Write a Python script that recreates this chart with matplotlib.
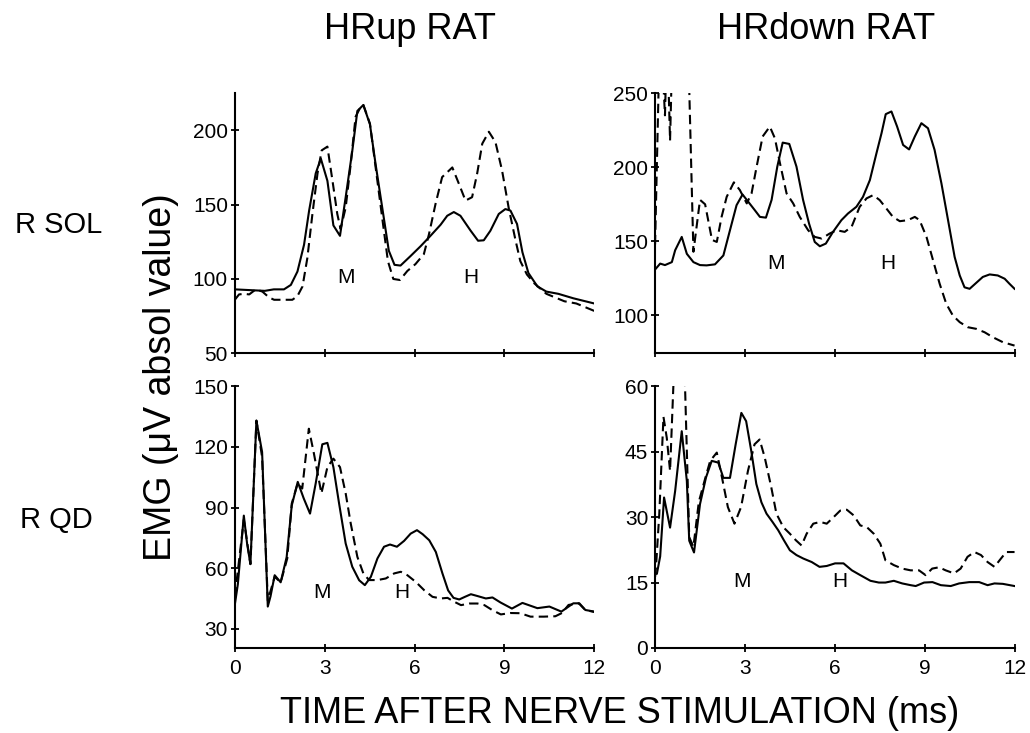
import numpy as np
import matplotlib
matplotlib.use('Agg')
import matplotlib.pyplot as plt

plt.rcParams['font.family'] = ['Liberation Sans', 'DejaVu Sans']

# ---- data (time in ms, EMG in uV) ----
# HRup rat, R SOL
sol_up_t = [0, 0.5, 1.0, 1.3, 1.64, 1.87, 2.09, 2.31, 2.48, 2.7, 2.87, 3.09, 3.29, 3.51, 3.7, 3.92,
            4.09, 4.29, 4.51, 4.7, 4.92, 5.14, 5.33, 5.53, 5.87, 6.2, 6.53, 6.87, 7.09, 7.31, 7.53,
            7.87, 8.12, 8.31, 8.53, 8.81, 9.03, 9.2, 9.42, 9.6, 9.8, 10.1, 10.4, 10.8, 11.3, 12]
sol_up_solid = [93, 92.5, 92, 93, 93, 96, 105, 123, 146, 171, 181, 166, 136, 129, 155, 186,
                213, 217, 204, 177, 148, 119, 109.5, 109, 115.5, 122, 129, 136.5, 142.5, 145, 142.5,
                132.5, 125.7, 126, 132.4, 143.7, 147, 146, 137, 118, 104, 95, 91.5, 90, 87, 83.5]
sol_up_dt = [0, 0.14, 0.31, 0.48, 0.7, 0.92, 1.14, 1.31, 1.53, 1.92, 2.09, 2.26, 2.42, 2.59, 2.76,
             2.9, 3.09, 3.26, 3.42, 3.53, 3.7, 3.87, 4.03, 4.2, 4.29, 4.51, 4.7, 4.92, 5.11, 5.29,
             5.51, 5.76, 6.03, 6.31, 6.48, 6.7, 6.92, 7.26, 7.48, 7.7, 7.92, 8.09, 8.26, 8.48, 8.7,
             8.92, 9.14, 9.37, 9.53, 9.75, 10.0, 10.4, 11.0, 11.4, 12]
sol_up_dash = [86, 89.6, 90, 89.6, 93, 91.5, 87.6, 86, 86, 86, 88.5, 95, 114, 143.7, 171,
               186.5, 189, 166, 143.7, 133.6, 148, 177.5, 209, 215.8, 217, 204.5, 175, 141, 112, 100,
               99.3, 105.4, 110, 116.7, 130, 150.5, 168.5, 175, 164, 152.7, 155, 171, 191, 199, 192,
               173, 148, 126, 112, 103, 97, 90, 85, 83.5, 78.5]

# HRdown rat, R SOL
sol_dn_t = [0, 0.17, 0.33, 0.56, 0.67, 0.89, 1.06, 1.28, 1.5, 1.72, 2.0, 2.28, 2.5, 2.72, 2.92,
            3.11, 3.33, 3.5, 3.7, 3.89, 4.08, 4.26, 4.48, 4.72, 4.94, 5.14, 5.33, 5.5, 5.7, 5.94,
            6.22, 6.44, 6.72, 6.94, 7.17, 7.39, 7.56, 7.7, 7.89, 8.08, 8.28, 8.48, 8.67, 8.89, 9.11,
            9.33, 9.56, 9.78, 10.0, 10.17, 10.33, 10.5, 10.72, 10.94, 11.17, 11.44, 11.67, 11.83, 12]
sol_dn_solid = [131, 135, 134, 136, 144, 153, 141.6, 136, 134, 133.8, 134.5, 140.5, 157.5, 174.4, 181.6,
                176.7, 171, 166.5, 166, 178, 200.4, 216.6, 215.7, 200.4, 178, 162, 149.6, 146.7, 148.5, 156.4,
                164.3, 168.8, 173.3, 180, 191.3, 209.4, 223, 235.8, 237.6, 227.4, 215, 212, 220.7, 229.7, 226.3,
                211.7, 189, 164.3, 139.5, 127, 119, 118, 122, 126, 127.7, 127, 124.8, 121.4, 118]
sol_dn_dt = [0, 0.17, 0.33, 0.4, 0.5, 0.6, 0.8, 1.08, 1.28, 1.5, 1.67, 1.9, 2.06, 2.22, 2.39, 2.63,
             2.83, 3.06, 3.22, 3.39, 3.59, 3.83, 4.0, 4.17, 4.39, 4.61, 4.83, 5.11, 5.33, 5.56, 5.83,
             6.06, 6.33, 6.56, 6.83, 7.06, 7.28, 7.5, 7.72, 7.94, 8.17, 8.44, 8.67, 8.83, 9.06, 9.28,
             9.5, 9.72, 9.94, 10.17, 10.44, 10.72, 11.0, 11.28, 11.61, 12]
sol_dn_dash = [148, 300, 235, 290, 218, 300, 320, 300, 143, 178, 175, 151, 149.6, 166.5, 180, 189.8,
               184.6, 175.6, 182.3, 200.4, 220.7, 227.4, 219.5, 202.6, 182.3, 175.6, 166.5, 157.5, 153, 151.9, 155.3,
               157.5, 156.4, 159.8, 173.3, 179, 181.2, 177.8, 172.2, 166.5, 163.6, 164.3, 166.5, 164.3, 153, 137.2,
               121.4, 107.9, 100, 95.5, 92.1, 91, 88.7, 85.3, 82, 79.7]

# HRup rat, R QD
qd_up_t = [0, 0.1, 0.3, 0.41, 0.52, 0.72, 0.91, 1.1, 1.19, 1.33, 1.53, 1.73, 1.9, 2.1, 2.3, 2.51,
           2.7, 2.92, 3.09, 3.29, 3.48, 3.7, 3.92, 4.15, 4.34, 4.54, 4.76, 4.98, 5.18, 5.41, 5.65,
           5.87, 6.08, 6.27, 6.49, 6.71, 6.93, 7.12, 7.3, 7.49, 7.68, 7.88, 8.1, 8.38, 8.6, 8.87,
           9.25, 9.6, 10.1, 10.5, 10.9, 11.3, 11.5, 11.7, 12]
qd_up_solid = [42, 52, 86, 72, 62, 133, 117.5, 41, 46, 56.5, 53, 65.5, 91, 102.7, 94.5, 87,
               102, 121.3, 122, 110, 92, 72.2, 60.7, 54, 51.6, 55.7, 64.8, 70.6, 71.7, 70.6, 73.5,
               77.1, 78.8, 76.8, 73.8, 68, 57.4, 49, 45.3, 44.5, 45.8, 47.1, 46.2, 45, 45.5, 43,
               40, 42.8, 40.2, 41, 38.5, 42.6, 42.6, 39.3, 38.5]
qd_up_dt = [0, 0.3, 0.52, 0.72, 0.91, 1.1, 1.33, 1.53, 1.75, 1.9, 2.1, 2.25, 2.47, 2.64, 2.89,
            3.09, 3.29, 3.51, 3.7, 3.87, 4.09, 4.29, 4.48, 4.76, 5.04, 5.32, 5.54, 5.76, 6.04,
            6.32, 6.6, 6.88, 7.1, 7.32, 7.55, 7.83, 8.1, 8.33, 8.6, 8.88, 9.2, 9.53, 9.87, 10.31,
            10.7, 10.92, 11.14, 11.48, 11.7, 12]
qd_up_dash = [46, 84, 62, 133, 115, 44, 55.7, 53, 64.8, 92, 102, 99.4, 129, 116.7, 97,
              110, 114.2, 110, 97, 82, 65.6, 57.4, 54.1, 54.1, 54.9, 57.4, 58.2, 56.5, 53.2,
              49.1, 45.8, 45, 45.3, 43.4, 41.7, 42.5, 42.5, 41.7, 39.2, 37.1, 37.8, 37.7, 36, 36,
              36.2, 37.8, 41.8, 42.6, 39.3, 38.3]

# HRdown rat, R QD
qd_dn_t = [0, 0.06, 0.17, 0.3, 0.5, 0.67, 0.89, 1.06, 1.14, 1.3, 1.5, 1.7, 1.89, 2.11, 2.28, 2.5,
           2.69, 2.88, 3.04, 3.21, 3.38, 3.55, 3.72, 3.92, 4.11, 4.3, 4.5, 4.72, 4.95, 5.23, 5.49,
           5.73, 6.01, 6.29, 6.57, 6.85, 7.19, 7.47, 7.69, 7.97, 8.25, 8.53, 8.7, 8.98, 9.26, 9.54,
           9.87, 10.15, 10.49, 10.82, 11.1, 11.33, 11.61, 12]
qd_dn_solid = [17, 17, 21, 34.5, 27.6, 36, 49.7, 38.3, 24.6, 21.9, 33, 39.1, 42.9, 42.5, 39, 39,
               46.7, 53.9, 52, 45.2, 37.6, 33.4, 30.8, 28.9, 27, 24.7, 22.4, 21.3, 20.5, 19.7, 18.6,
               18.8, 19.4, 19.4, 17.8, 16.7, 15.4, 15, 15, 15.4, 14.8, 14.4, 14.2, 15, 15.1, 14.4,
               14.2, 14.8, 15.1, 15.1, 14.4, 14.8, 14.7, 14.2]
qd_dn_dt = [0, 0.03, 0.14, 0.28, 0.39, 0.5, 0.61, 0.75, 0.9, 1.0, 1.14, 1.28, 1.46, 1.65, 1.84,
            2.06, 2.21, 2.43, 2.65, 2.87, 3.1, 3.32, 3.49, 3.66, 3.88, 4.05, 4.28, 4.5, 4.7, 4.89,
            5.06, 5.28, 5.51, 5.73, 5.96, 6.18, 6.4, 6.63, 6.85, 7.07, 7.3, 7.52, 7.69, 7.97, 8.25,
            8.53, 8.81, 9.03, 9.25, 9.48, 9.7, 9.98, 10.2, 10.43, 10.66, 10.88, 11.1, 11.33, 11.5,
            11.72, 12]
qd_dn_dash = [16.3, 18.5, 30.7, 53, 48.2, 40.6, 60, 68, 68, 60, 25.4, 23.2, 33.5, 38.3, 42.9,
              44.8, 39.9, 32.3, 28.5, 32.3, 40.6, 46.7, 47.8, 43.7, 36.8, 30.8, 27.7, 26.2, 24.7, 23.5,
              26.2, 28.5, 28.9, 28.5, 30, 31.5, 31.7, 30.4, 28.1, 27.7, 26.2, 23.9, 20.1, 19, 18.2,
              17.8, 17.8, 16.7, 18.2, 18.5, 17.8, 17.1, 18.2, 20.9, 22, 21.3, 19.7, 18.6, 20.1,
              22, 22]

x_ticks = [0, 3, 6, 9, 12]

fig = plt.figure(figsize=(10.3, 7.33), dpi=100)

ax_tl = fig.add_axes([0.228, 0.518, 0.349, 0.355])
ax_tr = fig.add_axes([0.636, 0.518, 0.349, 0.355])
ax_bl = fig.add_axes([0.228, 0.116, 0.349, 0.357])
ax_br = fig.add_axes([0.636, 0.116, 0.349, 0.357])

panels = [
    (ax_tl, sol_up_t, sol_up_solid, sol_up_dt, sol_up_dash, (50, 225), [50, 100, 150, 200], 101, 3.7, 7.87),
    (ax_tr, sol_dn_t, sol_dn_solid, sol_dn_dt, sol_dn_dash, (74.5, 250), [100, 150, 200, 250], 135.4, 4.02, 7.78),
    (ax_bl, qd_up_t, qd_up_solid, qd_up_dt, qd_up_dash, (20.5, 150), [30, 60, 90, 120, 150], 47.8, 2.92, 5.56),
    (ax_br, qd_dn_t, qd_dn_solid, qd_dn_dt, qd_dn_dash, (0, 60), [0, 15, 30, 45, 60], 15.2, 2.9, 6.16),
]

for ax, t1, y1, t2, y2, ylim, yticks, lab_y, m_x, h_x in panels:
    ax.plot(t1, y1, color='k', lw=1.5)
    ax.plot(t2, y2, color='k', lw=1.5, dashes=(4.5, 2.5))
    ax.set_xlim(0, 12)
    ax.set_ylim(ylim)
    ax.set_yticks(yticks)
    ax.set_xticks(x_ticks)
    ax.spines['top'].set_visible(False)
    ax.spines['right'].set_visible(False)
    ax.spines['left'].set_linewidth(1.5)
    ax.spines['bottom'].set_linewidth(1.5)
    ax.tick_params(direction='inout', length=6, width=1.3, labelsize=15)
    ax.tick_params(axis='y', pad=2)
    ax.tick_params(axis='x', pad=5)
    ax.text(m_x, lab_y, 'M', fontsize=15, ha='center', va='center')
    ax.text(h_x, lab_y, 'H', fontsize=15, ha='center', va='center')

ax_tl.set_xticklabels([])
ax_tr.set_xticklabels([])

fig.text(0.398, 0.96, 'HRup RAT', fontsize=26, ha='center', va='center')
fig.text(0.802, 0.96, 'HRdown RAT', fontsize=26, ha='center', va='center')
fig.text(0.0146, 0.693, 'R SOL', fontsize=21, ha='left', va='center')
fig.text(0.0194, 0.291, 'R QD', fontsize=21, ha='left', va='center')
fig.text(0.156, 0.486, 'EMG (μV absol value)', fontsize=27, rotation=90, ha='center', va='center')
fig.text(0.602, 0.026, 'TIME AFTER NERVE STIMULATION (ms)', fontsize=26, ha='center', va='center')

plt.savefig('out.png', dpi=100)
